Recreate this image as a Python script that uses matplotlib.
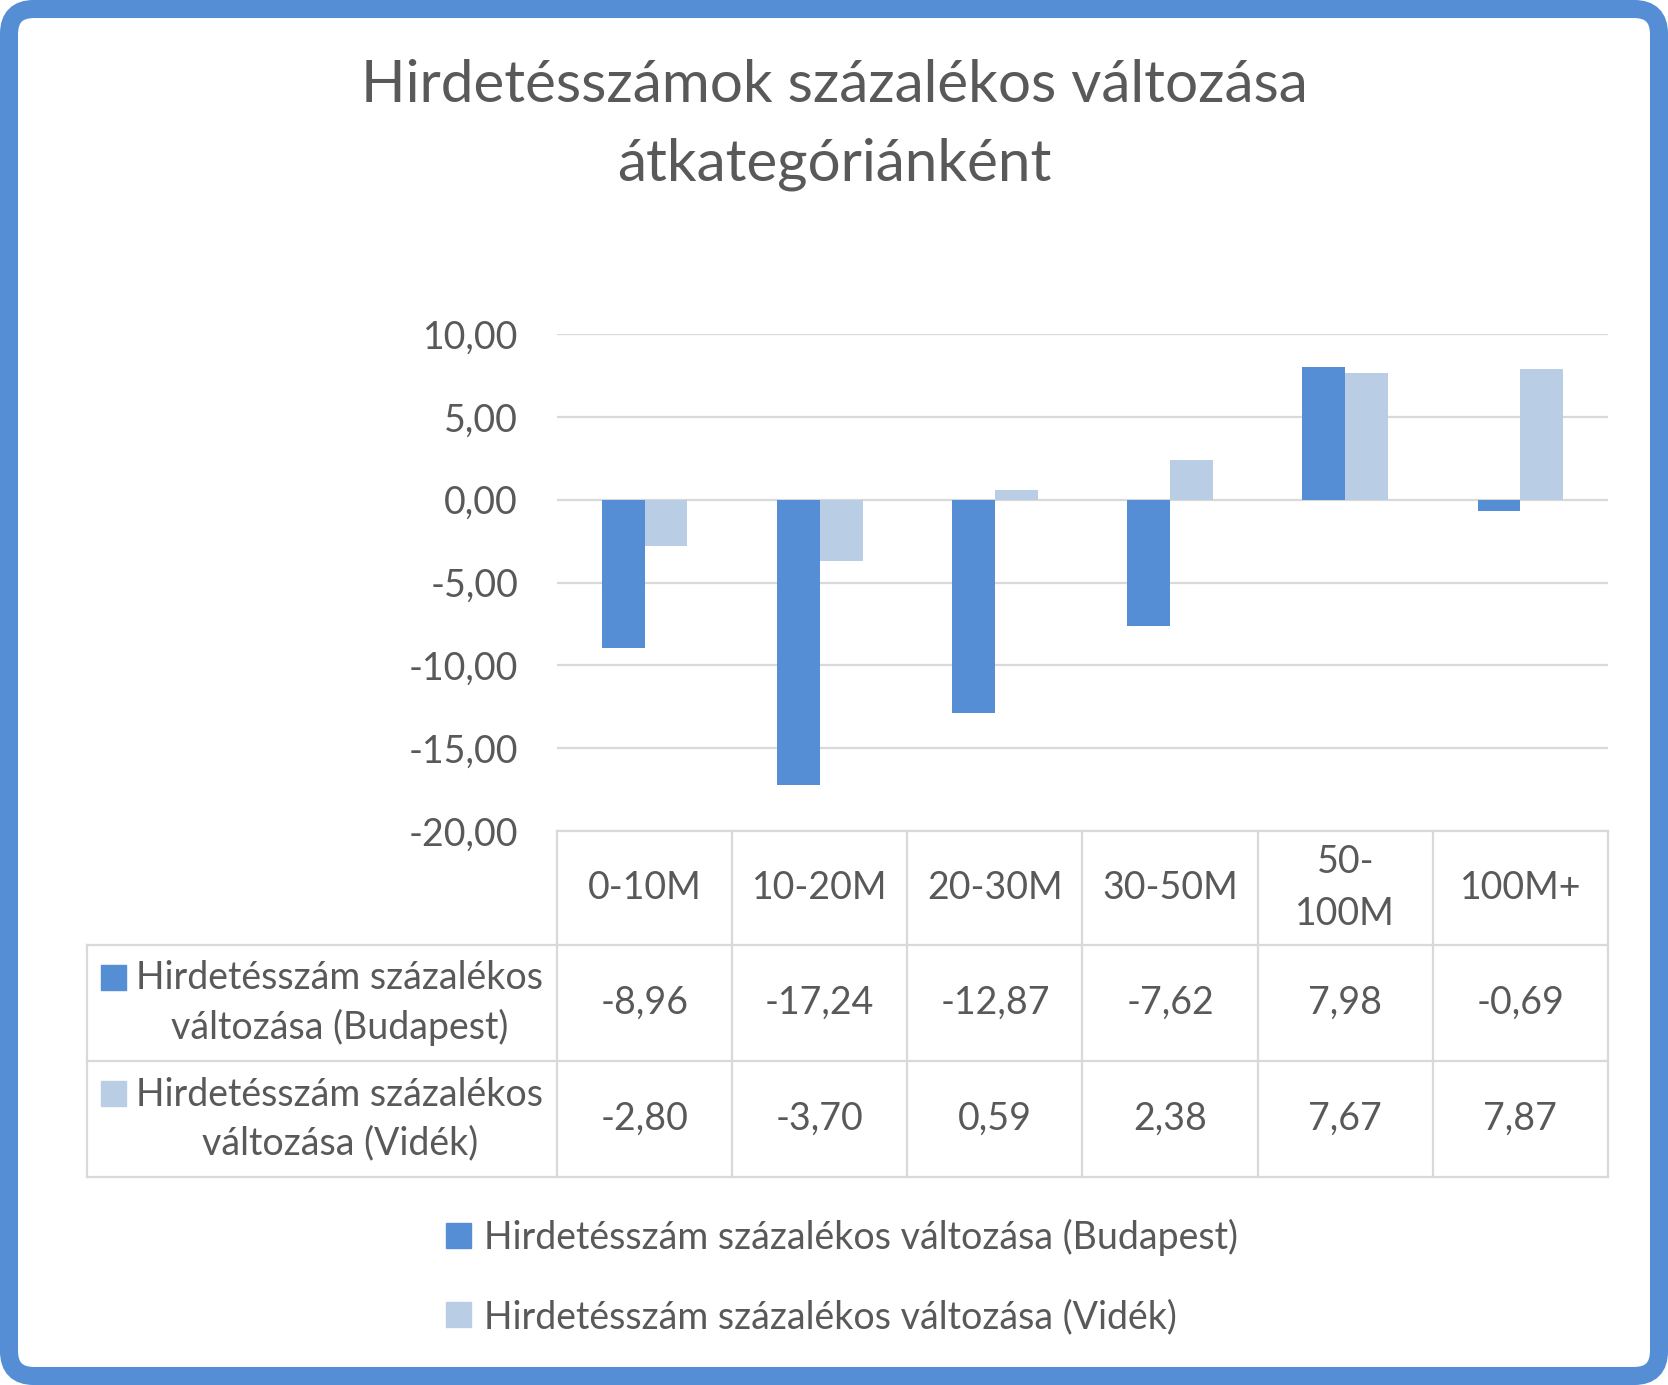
import matplotlib
matplotlib.use("Agg")
import matplotlib.pyplot as plt
import numpy as np
from matplotlib.patches import FancyBboxPatch, Patch
from matplotlib.transforms import blended_transform_factory

plt.rcParams['font.family'] = ['Lato', 'DejaVu Sans']

title = "Hirdetésszámok százalékos változása\nátkategóriánként"
categories = ['0-10M', '10-20M', '20-30M', '30-50M', '50-\n100M', '100M+']
budapest = [-8.96, -17.24, -12.87, -7.62, 7.98, -0.69]
videk = [-2.80, -3.70, 0.59, 2.38, 7.67, 7.87]
series_names = ['Hirdetésszám százalékos változása (Budapest)',
                'Hirdetésszám százalékos változása (Vidék)']
row_names = ['Hirdetésszám százalékos\nváltozása (Budapest)',
             'Hirdetésszám százalékos\nváltozása (Vidék)']
yticks = [-20, -15, -10, -5, 0, 5, 10]

dark = '#558ED5'
light = '#B9CDE5'
txt = '#595959'
grid = '#D9D9D9'
fs = 27

W, H = 1668, 1385
fig = plt.figure(figsize=(W / 100, H / 100), dpi=100)

# overlay in pixel coords for table lines, title, border
ov = fig.add_axes([0, 0, 1, 1])
ov.set_xlim(0, W)
ov.set_ylim(H, 0)
ov.axis('off')

# plot area
x0, x1, ytop, ybot = 557, 1608, 334, 831
ax = fig.add_axes([x0 / W, (H - ybot) / H, (x1 - x0) / W, (ybot - ytop) / H])
ax.set_facecolor('none')
x = np.arange(len(categories))
w = 0.245
ax.bar(x - w / 2, budapest, w, color=dark, zorder=3)
ax.bar(x + w / 2, videk, w, color=light, zorder=3)
ax.set_xlim(-0.5, len(categories) - 0.5)
ax.set_ylim(-20, 10)
ax.set_yticks(yticks)
ax.set_yticklabels([('%.2f' % v).replace('.', ',') for v in yticks])
ax.tick_params(axis='y', length=0, pad=28, labelsize=fs, labelcolor=txt)
ax.set_xticks([])
ax.grid(axis='y', color=grid, linewidth=1.6, zorder=0)
for s in ax.spines.values():
    s.set_visible(False)

# data table under the axis
rows_y = [831, 945, 1061, 1177]
tleft = 87
lc = dict(color=grid, linewidth=1.6)
ov.plot([x0, x1], [rows_y[0], rows_y[0]], **lc)
for yy in rows_y[1:]:
    ov.plot([tleft, x1], [yy, yy], **lc)
ov.plot([tleft, tleft], [rows_y[1], rows_y[3]], **lc)
colw = (x1 - x0) / len(categories)
for i in range(len(categories) + 1):
    xx = x0 + i * colw
    ov.plot([xx, xx], [rows_y[0], rows_y[3]], **lc)

tr = blended_transform_factory(ax.transData, ov.transData)
for i, c in enumerate(categories):
    ov.text(i, (rows_y[0] + rows_y[1]) / 2, c, transform=tr, ha='center', va='center',
            fontsize=fs, color=txt, linespacing=1.55)
for r, vals in enumerate([budapest, videk]):
    yc = (rows_y[r + 1] + rows_y[r + 2]) / 2
    for i, v in enumerate(vals):
        ov.text(i, yc, ('%.2f' % v).replace('.', ','), transform=tr, ha='center',
                va='center', fontsize=fs, color=txt)
    ov.text(340, yc, row_names[r], ha='center', va='center', fontsize=fs,
            color=txt, linespacing=1.4)
    ov.add_patch(plt.Rectangle((101, yc - 38), 25, 25,
                               color=[dark, light][r]))

# title
ov.text(834, 125, title, ha='center', va='center', fontsize=42, color=txt,
        linespacing=1.6)

# legend
handles = [Patch(color=dark), Patch(color=light)]
fig.legend(handles, series_names, loc='center', bbox_to_anchor=(842 / W, 1 - 1277 / H),
           frameon=False, fontsize=fs, labelcolor=txt, handlelength=0.65,
           handleheight=0.65, handletextpad=0.35, labelspacing=1.15)

# rounded blue frame
ov.add_patch(FancyBboxPatch((9, 9), W - 18, H - 18,
                            boxstyle='round,pad=0,rounding_size=25',
                            fill=False, edgecolor=dark, linewidth=13, zorder=10))

fig.savefig('out.png', dpi=100)
